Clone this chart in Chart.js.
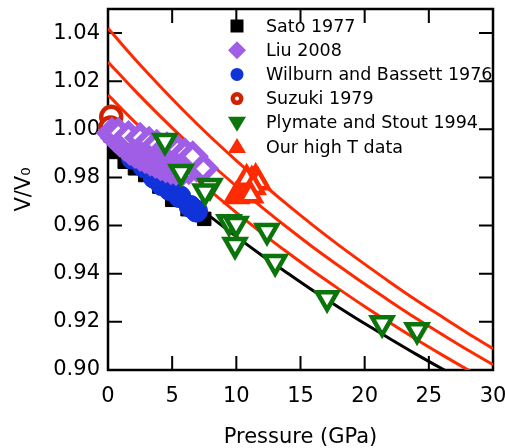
<!DOCTYPE html>
<html lang="en">
<head>
  <meta charset="UTF-8" />
  <title>V/V0 vs Pressure</title>
  <script src="https://cdn.jsdelivr.net/npm/chart.js@4.4.1/dist/chart.umd.min.js"></script>
  <style>
    html, body { margin: 0; padding: 0; background: #ffffff; }
    #wrap { width: 505px; height: 448px; }
  </style>
</head>
<body>
<div id="wrap"><canvas id="eos" width="505" height="448"></canvas></div>

<script>
// --- fitted curves (every 2 GPa) ---
const curveP  = [0, 2, 4, 6, 8, 10, 12, 14, 16, 18, 20, 22, 24, 26, 28, 30];
const fit300K = [1.0, 0.9902, 0.9809, 0.9721, 0.9636, 0.9554, 0.9476, 0.9402, 0.9329, 0.9260, 0.9193, 0.9129, 0.9066, 0.9006, 0.8948, 0.8891];
const fitHotA = [1.042, 1.0297, 1.0182, 1.0072, 0.9968, 0.9870, 0.9776, 0.9686, 0.9600, 0.9518, 0.9440, 0.9364, 0.9291, 0.9222, 0.9154, 0.9089];
const fitHotB = [1.028, 1.0166, 1.0058, 0.9955, 0.9857, 0.9764, 0.9676, 0.9591, 0.9509, 0.9432, 0.9357, 0.9285, 0.9215, 0.9149, 0.9084, 0.9022];
const fitHotC = [1.0143, 1.0035, 0.9933, 0.9835, 0.9743, 0.9654, 0.9569, 0.9488, 0.9410, 0.9336, 0.9264, 0.9195, 0.9128, 0.9064, 0.9002, 0.8942];

// --- measured points ---
const satoP = [0.2, 0.6, 1.3, 2.1, 2.9, 4.0, 5.0, 6.2, 7.5];
const satoV = [0.9975, 0.9906, 0.9865, 0.9838, 0.9810, 0.9762, 0.9707, 0.9668, 0.9628];

const liuP = [0.3, 0.6, 0.9, 1.3, 1.7, 2.1, 2.5, 2.9, 3.3, 3.7, 4.1, 4.5, 4.9, 5.3, 5.8, 6.3, 6.9, 7.4, 0.8, 1.6, 2.5, 3.2, 3.8, 4.6, 5.4, 6.0, 6.6];
const liuV = [0.9985, 0.9965, 0.9950, 0.9932, 0.9915, 0.9902, 0.9890, 0.9880, 0.9870, 0.9860, 0.9850, 0.9842, 0.9835, 0.9830, 0.9828, 0.9835, 0.9845, 0.9838, 0.9985, 0.9972, 0.9965, 0.9948, 0.9936, 0.9925, 0.9915, 0.9900, 0.9888];

const wbP = [0.5, 1.0, 1.9, 2.8, 3.6, 4.2, 4.8, 5.6, 6.4, 6.9];
const wbV = [0.9990, 0.9950, 0.9880, 0.9845, 0.9800, 0.9770, 0.9750, 0.9720, 0.9680, 0.9660];

const suzP = [0.25, 0.2];
const suzV = [1.0052, 1.0008];

const psP = [4.44, 5.69, 7.95, 7.56, 9.43, 9.98, 9.9, 12.39, 13.02, 17.07, 21.36, 24.08];
const psV = [0.9952, 0.9823, 0.9765, 0.9742, 0.9615, 0.9607, 0.9520, 0.9578, 0.9449, 0.9299, 0.9195, 0.9166];

const ourP = [10.0, 10.3, 10.6, 10.9, 11.2, 11.5, 11.7, 10.8, 11.3, 11.1];
const ourV = [0.9722, 0.9740, 0.9752, 0.9768, 0.9787, 0.9797, 0.9780, 0.9794, 0.9760, 0.9726];

const xTicks = [0, 5, 10, 15, 20, 25, 30];
const yTicks = [0.90, 0.92, 0.94, 0.96, 0.98, 1.00, 1.02, 1.04];

const FONT = "'DejaVu Sans', sans-serif";
const TICK = 14;

const pts = (xs, ys) => xs.map((v, i) => ({ x: v, y: ys[i] }));

function fitLine(vals, color) {
  return {
    data: pts(curveP, vals),
    showLine: true,
    pointRadius: 0,
    borderColor: color,
    borderWidth: 3,
    tension: 0.3,
    order: 10
  };
}

// legend symbols
function drawSymbol(ctx, kind, x, y, color) {
  ctx.save();
  ctx.fillStyle = color;
  ctx.beginPath();
  if (kind === 'square') {
    ctx.rect(x - 6.5, y - 6.5, 13, 13);
    ctx.fill();
  } else if (kind === 'diamond') {
    ctx.moveTo(x, y - 9); ctx.lineTo(x + 9, y); ctx.lineTo(x, y + 9); ctx.lineTo(x - 9, y);
    ctx.closePath(); ctx.fill();
  } else if (kind === 'dot') {
    ctx.arc(x, y, 6.5, 0, Math.PI * 2); ctx.fill();
  } else if (kind === 'ring') {
    ctx.arc(x, y, 6.5, 0, Math.PI * 2); ctx.fill();
    ctx.beginPath(); ctx.fillStyle = '#fff';
    ctx.arc(x, y, 2, 0, Math.PI * 2); ctx.fill();
  } else if (kind === 'down') {
    ctx.moveTo(x - 9, y - 6); ctx.lineTo(x + 9, y - 6); ctx.lineTo(x, y + 9);
    ctx.closePath(); ctx.fill();
  } else if (kind === 'up') {
    ctx.moveTo(x - 9, y + 6); ctx.lineTo(x + 9, y + 6); ctx.lineTo(x, y - 9);
    ctx.closePath(); ctx.fill();
  }
  ctx.restore();
}

const frameTicks = {
  id: 'frameTicks',
  beforeDatasetsDraw(chart) {
    const { ctx, chartArea: a, scales: { x, y } } = chart;
    ctx.save();
    ctx.strokeStyle = '#000';
    ctx.lineWidth = 2;
    ctx.beginPath();
    x.ticks.forEach(t => {
      const px = x.getPixelForValue(t.value);
      ctx.moveTo(px, a.bottom); ctx.lineTo(px, a.bottom - TICK);
      ctx.moveTo(px, a.top); ctx.lineTo(px, a.top + TICK);
    });
    y.ticks.forEach(t => {
      const py = y.getPixelForValue(t.value);
      ctx.moveTo(a.left, py); ctx.lineTo(a.left + TICK, py);
      ctx.moveTo(a.right, py); ctx.lineTo(a.right - TICK, py);
    });
    ctx.stroke();
    ctx.lineWidth = 2.5;
    ctx.strokeRect(a.left, a.top, a.right - a.left, a.bottom - a.top);
    ctx.restore();
  }
};

const insideLegend = {
  id: 'insideLegend',
  afterDraw(chart) {
    const { ctx } = chart;
    const items = chart.data.datasets.filter(d => d.legendKind);
    ctx.save();
    ctx.font = '17.5px ' + FONT;
    ctx.textBaseline = 'middle';
    items.forEach((d, i) => {
      const yy = 26 + i * 24.2;
      drawSymbol(ctx, d.legendKind, 237, yy, d.legendColor);
      ctx.fillStyle = '#000';
      ctx.fillText(d.label, 266, yy + 1);
    });
    ctx.restore();
  }
};

new Chart(document.getElementById('eos'), {
  type: 'scatter',
  data: {
    datasets: [
      {
        label: 'Sato 1977', legendKind: 'square', legendColor: '#000000',
        data: pts(satoP, satoV), pointStyle: 'rect', pointRadius: 9.5,
        backgroundColor: '#000000', borderColor: '#000000', borderWidth: 1,
        clip: false, order: 6
      },
      {
        label: 'Liu 2008', legendKind: 'diamond', legendColor: '#a05ee6',
        data: pts(liuP, liuV), pointStyle: 'rectRot', pointRadius: 11.5,
        backgroundColor: '#ffffff', borderColor: '#a05ee6', borderWidth: 6.5,
        clip: false, order: 4
      },
      {
        label: 'Wilburn and Bassett 1976', legendKind: 'dot', legendColor: '#0f33d8',
        data: pts(wbP, wbV), pointStyle: 'circle', pointRadius: 11,
        backgroundColor: '#0f33d8', borderColor: '#0f33d8', borderWidth: 1,
        clip: false, order: 5
      },
      {
        label: 'Suzuki 1979', legendKind: 'ring', legendColor: '#cf2200',
        data: pts(suzP, suzV), pointStyle: 'circle', pointRadius: 10,
        backgroundColor: '#ffffff', borderColor: '#cf2200', borderWidth: 4.5,
        clip: false, order: 7
      },
      {
        label: 'Plymate and Stout 1994', legendKind: 'down', legendColor: '#0b740b',
        data: pts(psP, psV), pointStyle: 'triangle', rotation: 180, pointRadius: 11.7,
        backgroundColor: '#ffffff', borderColor: '#0b740b', borderWidth: 4.5,
        clip: false, order: 3
      },
      {
        label: 'Our high T data', legendKind: 'up', legendColor: '#ff2a00',
        data: pts(ourP, ourV), pointStyle: 'triangle', pointRadius: 11.7,
        backgroundColor: '#ffffff', borderColor: '#ff2a00', borderWidth: 4.5,
        clip: false, order: 2
      },
      fitLine(fit300K, '#000000'),
      fitLine(fitHotA, '#ff2a00'),
      fitLine(fitHotB, '#ff2a00'),
      fitLine(fitHotC, '#ff2a00')
    ]
  },
  options: {
    responsive: false,
    animation: false,
    events: [],
    layout: { autoPadding: false, padding: { top: 9, right: 12, left: 0, bottom: 0 } },
    plugins: { legend: { display: false }, tooltip: { enabled: false } },
    scales: {
      x: {
        type: 'linear', min: 0, max: 30,
        grid: { display: false, drawTicks: false },
        border: { display: false },
        ticks: { padding: 14, color: '#000', font: { family: FONT, size: 21 } },
        afterBuildTicks: s => { s.ticks = xTicks.map(v => ({ value: v })); },
        title: { display: true, text: 'Pressure (GPa)', color: '#000', padding: 0,
                 font: { family: FONT, size: 21, lineHeight: 1 } },
        afterFit: s => { s.height = 78; s.paddingLeft = 0; s.paddingRight = 0; }
      },
      y: {
        type: 'linear', min: 0.9, max: 1.05,
        grid: { display: false, drawTicks: false },
        border: { display: false },
        ticks: { padding: 8, color: '#000', font: { family: FONT, size: 21 },
                 callback: v => v.toFixed(2) },
        afterBuildTicks: s => { s.ticks = yTicks.map(v => ({ value: v })); },
        title: { display: true, text: 'V/V₀', color: '#000', padding: { top: 14, bottom: 0 },
                 font: { family: FONT, size: 21, lineHeight: 1 } },
        afterFit: s => { s.width = 108; s.paddingTop = 0; s.paddingBottom = 0; }
      }
    }
  },
  plugins: [frameTicks, insideLegend]
});
</script>
</body>
</html>
